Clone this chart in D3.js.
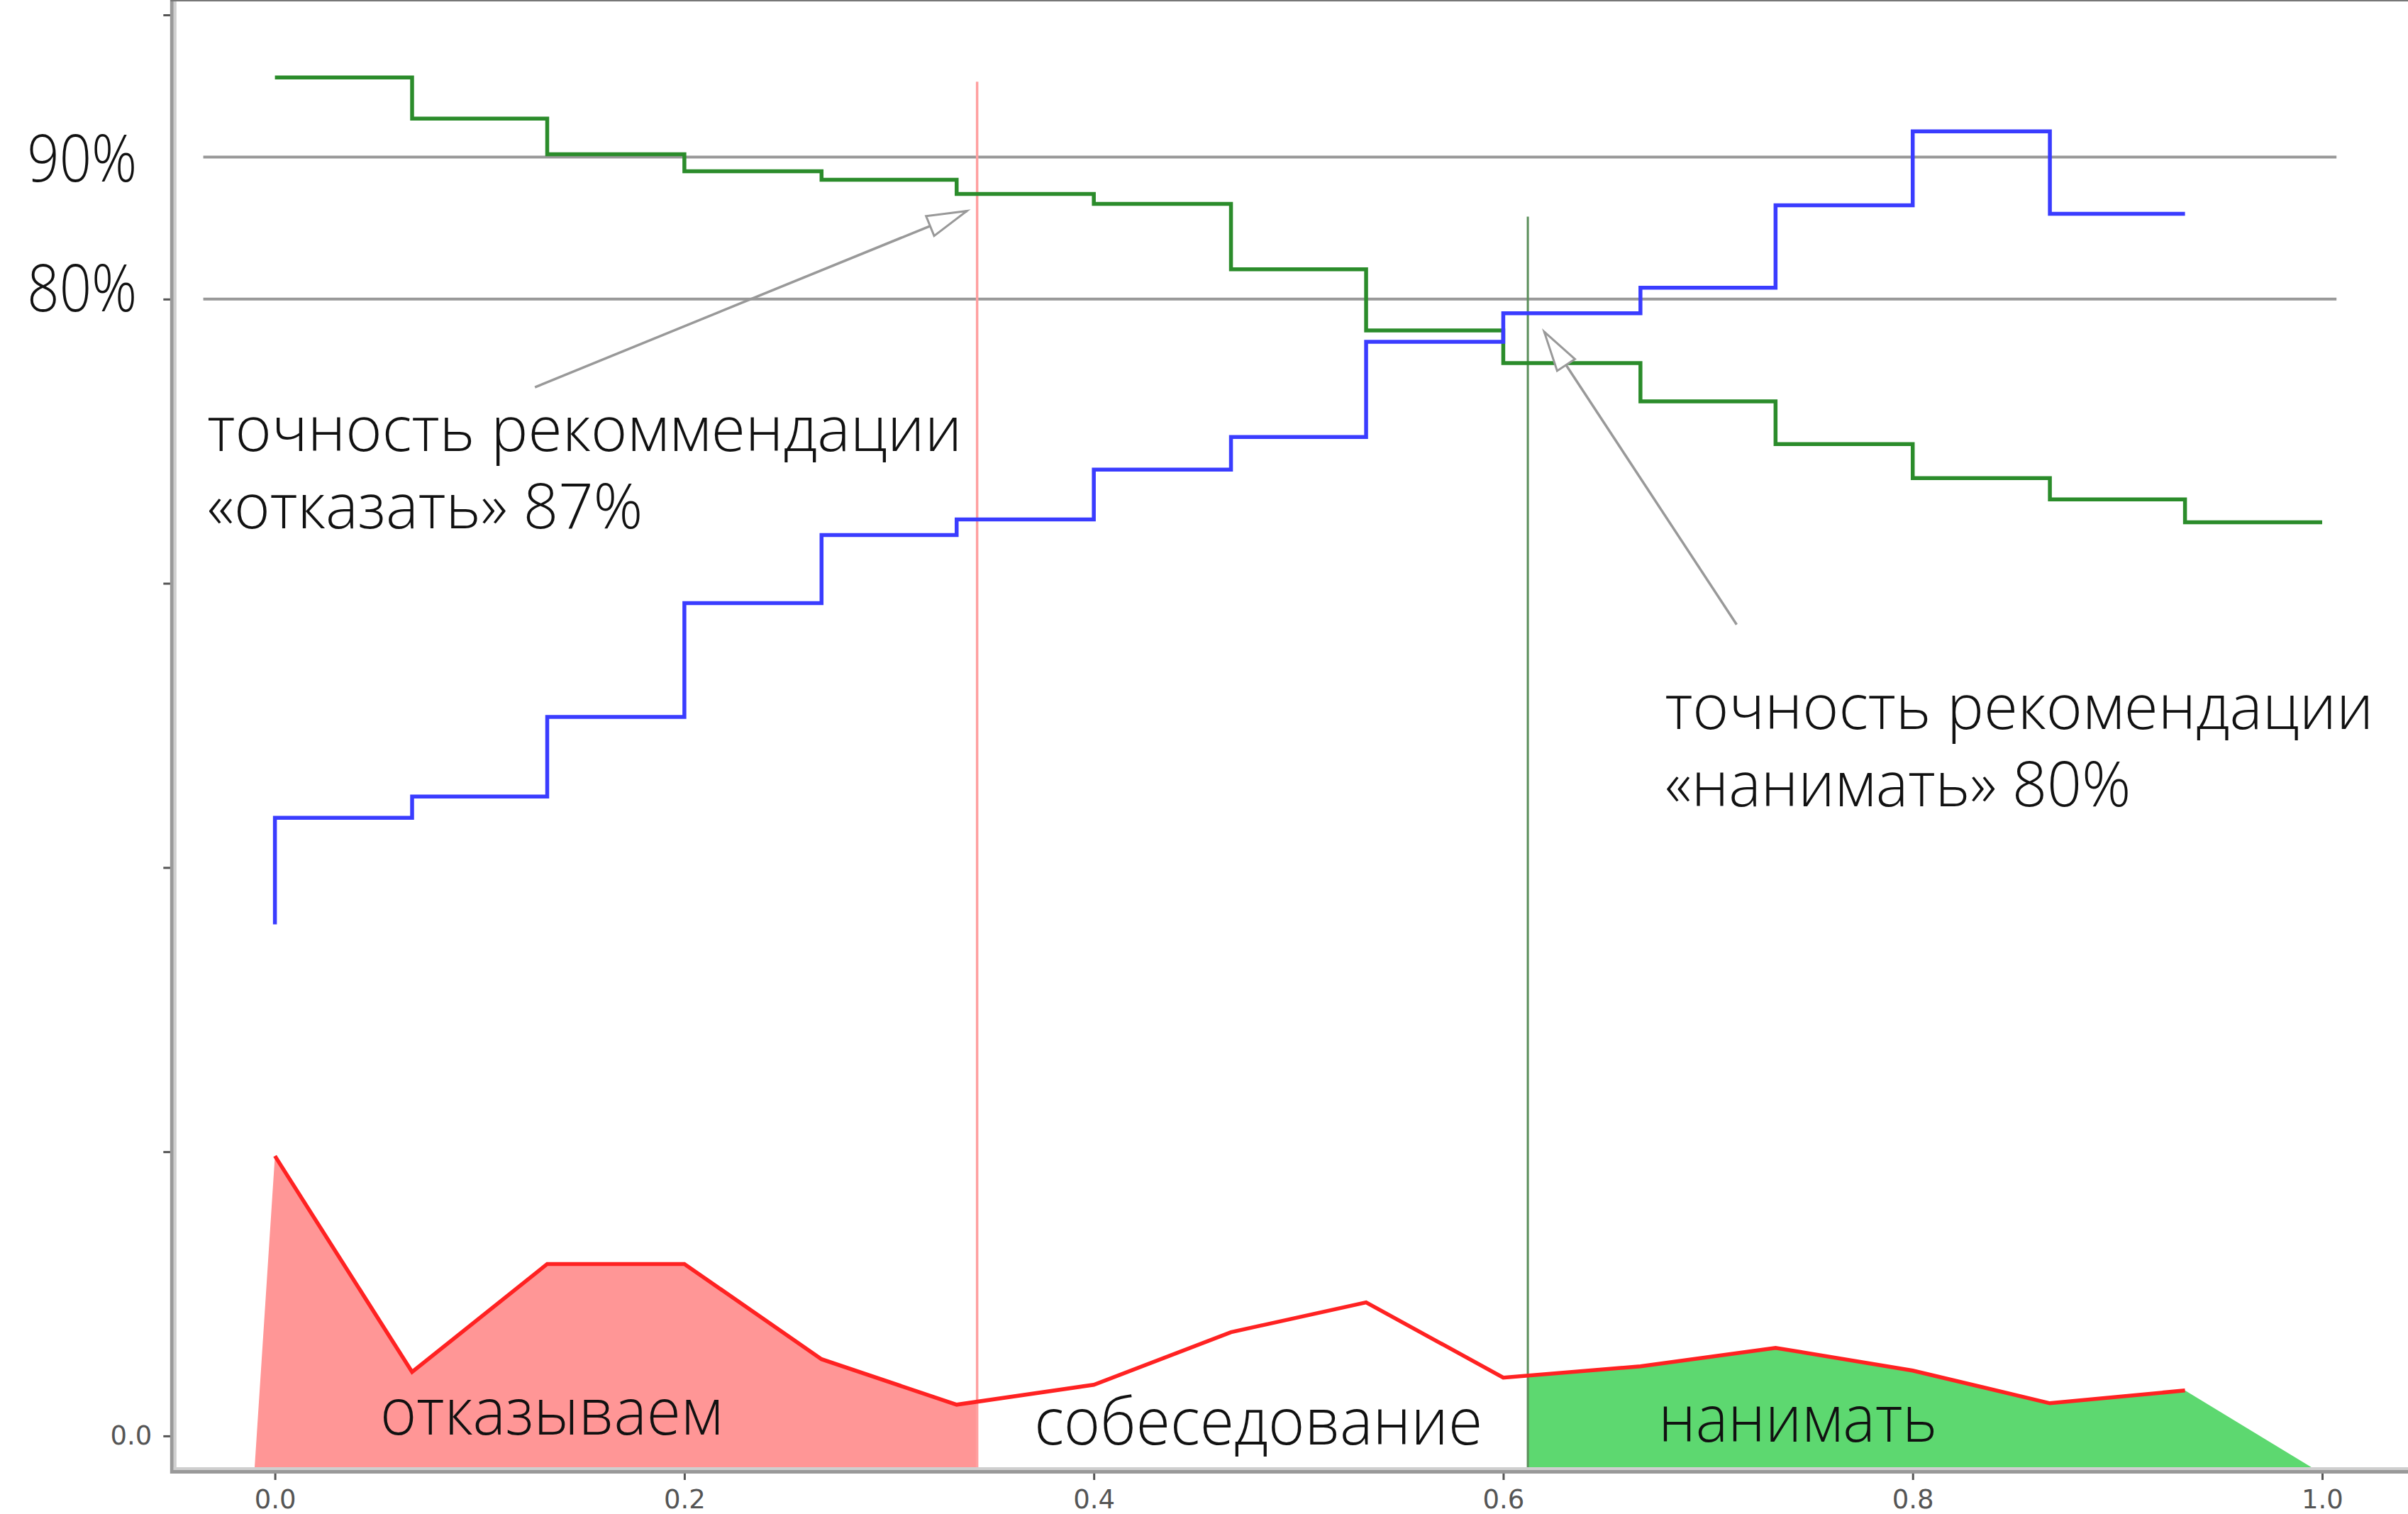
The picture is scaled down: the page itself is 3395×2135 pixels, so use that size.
<!doctype html>
<html>
<head>
<meta charset="UTF-8">
<title>точность рекомендаций</title>
<script src="https://cdn.jsdelivr.net/npm/d3@7"></script>
<style>
  body { margin: 0; background: #fff; }
  .ann { font-family: "Open Sans", sans-serif; font-weight: 300; fill: #111; }
  .tick text { font-family: "DejaVu Sans", sans-serif; fill: #555; }
  .tick line { stroke: #555; stroke-width: 3; }
</style>
</head>
<body>
<div id="chart"></div>
<script>
var width = 3395, height = 2135;

// thresholds along the score axis
var stepX = [0, 0.067, 0.133, 0.2, 0.267, 0.333, 0.4, 0.467, 0.533, 0.6, 0.667, 0.733, 0.8, 0.867, 0.933, 1.0];
// green step: precision of "отказать"
var greenY = [0.956, 0.956, 0.927, 0.902, 0.890, 0.884, 0.874, 0.867, 0.821, 0.778, 0.755, 0.728, 0.698, 0.674, 0.659, 0.643];
// blue step: precision of "нанимать"
var blueY = [0.360, 0.435, 0.450, 0.506, 0.586, 0.634, 0.645, 0.680, 0.703, 0.770, 0.790, 0.808, 0.866, 0.918, 0.860];
// red line: share of candidates
var redY = [0.197, 0.045, 0.121, 0.121, 0.054, 0.022, 0.036, 0.073, 0.094, 0.041, 0.049, 0.062, 0.046, 0.023, 0.032];

var rejectCut = 0.343, rejectTop = 0.953, rejectFillStart = -0.01;
var hireCut = 0.612, hireTop = 0.858, hireFillEnd = 0.997;

var refLines = [0.9, 0.8];
var refLabels = ["90%", "80%"];
var refSpan = [-0.035, 1.007];

var xTicks = [0, 0.2, 0.4, 0.6, 0.8, 1.0];
var yTicks = [0, 0.2, 0.4, 0.6, 0.8, 1.0];

var annText = [["точность рекоммендации", "«отказать» 87%"], ["точность рекомендации", "«нанимать» 80%"]];
var annPos = [[-0.033, 0.693], [0.679, 0.4975]];
var arrowFrom = [[0.127, 0.738], [0.714, 0.571]];
var arrowTo = [[0.338, 0.862], [0.620, 0.777]];

var zoneLabels = ["отказываем", "собеседование", "нанимать"];
var zoneX = [0.0514, 0.3709, 0.6758];
var zoneY = [0.001, -0.006, -0.004];

var xDom = [-0.05, 1.05], yDom = [-0.024, 1.003];
var yMin = yDom[0];

var x = d3.scaleLinear().domain(xDom).range([243.3, 3418.3]);
var y = d3.scaleLinear().domain(yDom).range([2073, 15]);

var svg = d3.select("#chart")
    .append("svg")
    .attr("width", width)
    .attr("height", height)
    .style("display", "block");

svg.append("rect").attr("width", width).attr("height", height).attr("fill", "#fff");

var defs = svg.append("defs");
defs.append("marker")
    .attr("id", "head")
    .attr("markerUnits", "userSpaceOnUse")
    .attr("viewBox", "-70 -40 80 80")
    .attr("markerWidth", 80)
    .attr("markerHeight", 80)
    .attr("refX", 0)
    .attr("refY", 0)
    .attr("orient", "auto")
    .append("path")
    .attr("d", "M0,0L-56,-15L-56,15Z")
    .attr("fill", "#fff")
    .attr("stroke", "#999")
    .attr("stroke-width", 3);

var redPts = redY.map(function (v, i) { return [stepX[i], v]; });

function redAt(v) {
    for (var i = 0; i < redPts.length - 1; i++) {
        var a = redPts[i], b = redPts[i + 1];
        if (v >= a[0] && v <= b[0]) {
            return a[1] + (b[1] - a[1]) * (v - a[0]) / (b[0] - a[0]);
        }
    }
    return redPts[redPts.length - 1][1];
}

var area = d3.area()
    .x(function (d) { return x(d[0]); })
    .y0(y(yMin))
    .y1(function (d) { return y(d[1]); });

var rejectPts = [[rejectFillStart, yMin]]
    .concat(redPts.filter(function (p) { return p[0] < rejectCut; }))
    .concat([[rejectCut, redAt(rejectCut)]]);

var hirePts = [[hireCut, redAt(hireCut)]]
    .concat(redPts.filter(function (p) { return p[0] > hireCut; }))
    .concat([[hireFillEnd, yMin]]);

svg.append("path").attr("d", area(rejectPts)).attr("fill", "#ff9696");
svg.append("path").attr("d", area(hirePts)).attr("fill", "#5dd870");

// reference lines 90% / 80%
svg.selectAll(".ref")
    .data(refLines)
    .enter()
    .append("line")
    .attr("class", "ref")
    .attr("x1", x(refSpan[0]))
    .attr("x2", x(refSpan[1]))
    .attr("y1", function (d) { return y(d); })
    .attr("y2", function (d) { return y(d); })
    .style("stroke", "#999")
    .style("stroke-width", 4);

var refNudge = [35, 17];
svg.selectAll(".reflabel")
    .data(refLabels)
    .enter()
    .append("text")
    .attr("class", "ann")
    .attr("x", x(xDom[0]) - 50)
    .attr("y", function (d, i) { return y(refLines[i]) + refNudge[i]; })
    .attr("text-anchor", "end")
    .attr("textLength", 155)
    .attr("lengthAdjust", "spacingAndGlyphs")
    .style("font-size", "92px")
    .text(function (d) { return d; });

// cut lines
svg.append("line")
    .attr("x1", x(rejectCut)).attr("x2", x(rejectCut))
    .attr("y1", y(yMin)).attr("y2", y(rejectTop))
    .style("stroke", "#ffa0a0").style("stroke-width", 3.5);

svg.append("line")
    .attr("x1", x(hireCut)).attr("x2", x(hireCut))
    .attr("y1", y(yMin)).attr("y2", y(hireTop))
    .style("stroke", "#5a8f5a").style("stroke-width", 3);

var step = d3.line()
    .curve(d3.curveStepBefore)
    .x(function (d) { return x(d[0]); })
    .y(function (d) { return y(d[1]); });

svg.append("path")
    .attr("d", step(greenY.map(function (v, i) { return [stepX[i], v]; })))
    .attr("fill", "none")
    .attr("stroke", "#2b8c2b")
    .attr("stroke-width", 5.5);

svg.append("path")
    .attr("d", step(blueY.map(function (v, i) { return [stepX[i], v]; })))
    .attr("fill", "none")
    .attr("stroke", "#3a3cff")
    .attr("stroke-width", 5.5);

svg.append("path")
    .attr("d", d3.line()
        .x(function (d) { return x(d[0]); })
        .y(function (d) { return y(d[1]); })(redPts))
    .attr("fill", "none")
    .attr("stroke", "#ff2222")
    .attr("stroke-width", 5.5)
    .attr("stroke-linejoin", "miter");

// arrows
svg.selectAll(".arrow")
    .data(arrowFrom)
    .enter()
    .append("line")
    .attr("class", "arrow")
    .attr("x1", function (d) { return x(d[0]); })
    .attr("y1", function (d) { return y(d[1]); })
    .attr("x2", function (d, i) { return x(arrowTo[i][0]); })
    .attr("y2", function (d, i) { return y(arrowTo[i][1]); })
    .style("stroke", "#999")
    .style("stroke-width", 3.5)
    .attr("marker-end", "url(#head)");

// annotation text
var annWidths = [[1064, 614], [999, 657]];
annText.forEach(function (lines, k) {
    lines.forEach(function (t, j) {
        svg.append("text")
            .attr("class", "ann")
            .attr("x", x(annPos[k][0]))
            .attr("y", y(annPos[k][1]) + j * 109)
            .attr("textLength", annWidths[k][j])
            .attr("lengthAdjust", "spacingAndGlyphs")
            .style("font-size", "88px")
            .text(t);
    });
});

var zoneWidths = [483, 632, 393];
svg.selectAll(".zone")
    .data(zoneLabels)
    .enter()
    .append("text")
    .attr("class", "ann zone")
    .attr("x", function (d, i) { return x(zoneX[i]); })
    .attr("y", function (d, i) { return y(zoneY[i]); })
    .attr("textLength", function (d, i) { return zoneWidths[i]; })
    .attr("lengthAdjust", "spacingAndGlyphs")
    .style("font-size", "92px")
    .text(function (d) { return d; });

// axes
var xAxis = d3.axisBottom(x)
    .tickValues(xTicks)
    .tickSize(14)
    .tickPadding(14)
    .tickFormat(d3.format(".1f"));

svg.append("g")
    .attr("transform", "translate(0," + y(yMin) + ")")
    .call(xAxis)
    .call(function (g) { g.select(".domain").remove(); })
    .selectAll("text")
    .style("font-size", "37px");

var yAxis = d3.axisLeft(y)
    .tickValues(yTicks)
    .tickSize(13)
    .tickPadding(16)
    .tickFormat(function (d) { return d === 0 ? "0.0" : ""; });

svg.append("g")
    .attr("transform", "translate(" + x(xDom[0]) + ",0)")
    .call(yAxis)
    .call(function (g) { g.select(".domain").remove(); })
    .selectAll("text")
    .style("font-size", "37px");

// spines
var left = x(xDom[0]), bottom = y(yMin), top = y(yDom[1]);
svg.append("line").attr("x1", left - 1).attr("x2", left - 1).attr("y1", top - 2).attr("y2", bottom + 5)
    .style("stroke", "#999").style("stroke-width", 5);
svg.append("line").attr("x1", left + 3.5).attr("x2", left + 3.5).attr("y1", top).attr("y2", bottom)
    .style("stroke", "#cfcfcf").style("stroke-width", 4);
svg.append("line").attr("x1", left - 3).attr("x2", width).attr("y1", bottom + 2.5).attr("y2", bottom + 2.5)
    .style("stroke", "#999").style("stroke-width", 5);
svg.append("line").attr("x1", left + 1.5).attr("x2", width).attr("y1", bottom - 2).attr("y2", bottom - 2)
    .style("stroke", "#cfcfcf").style("stroke-width", 4);
svg.append("line").attr("x1", left - 3).attr("x2", width).attr("y1", top - 1).attr("y2", top - 1)
    .style("stroke", "#777").style("stroke-width", 4);
</script>
</body>
</html>
